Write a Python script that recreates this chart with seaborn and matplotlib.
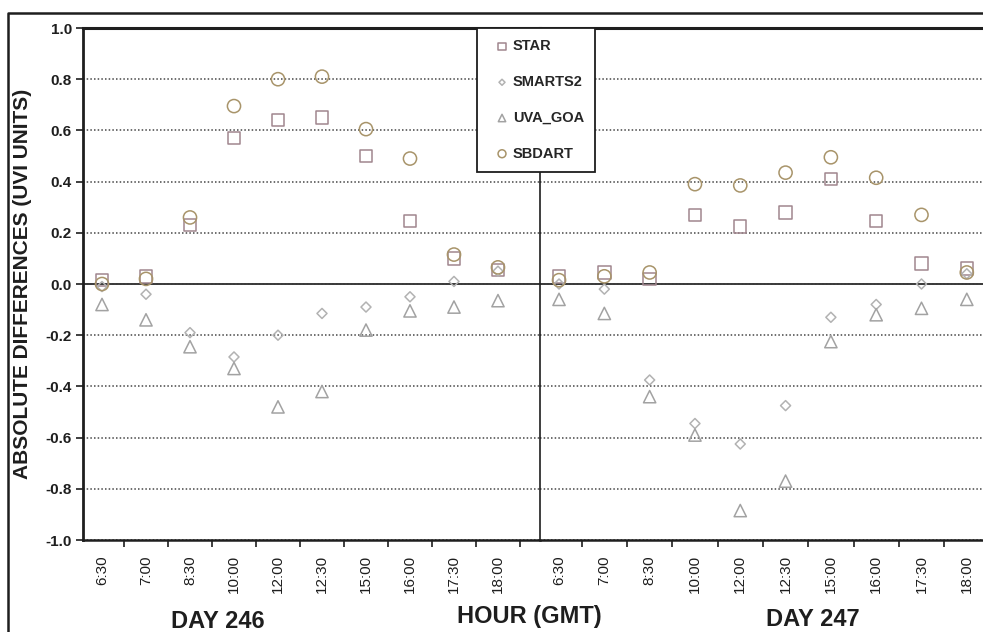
import numpy as np
import pandas as pd
import matplotlib
matplotlib.use("Agg")
import matplotlib.pyplot as plt
import seaborn as sns
from matplotlib.lines import Line2D
from matplotlib.ticker import FixedLocator

# Measurement hours (GMT) used on both days
hours = ["6:30", "7:00", "8:30", "10:00", "12:00", "12:30",
         "15:00", "16:00", "17:30", "18:00"]
models = ["STAR", "SMARTS2", "UVA_GOA", "SBDART"]

# Absolute differences (UVI units), day 246
star_246 = [0.015, 0.03, 0.23, 0.57, 0.64, 0.65, 0.50, 0.245, 0.10, 0.055]
smarts2_246 = [-0.01, -0.04, -0.19, -0.285, -0.20, -0.115, -0.09, -0.05, 0.01, 0.05]
uvagoa_246 = [-0.08, -0.14, -0.245, -0.33, -0.48, -0.42, -0.18, -0.105, -0.09, -0.065]
sbdart_246 = [0.0, 0.02, 0.26, 0.695, 0.80, 0.81, 0.605, 0.49, 0.115, 0.065]

# Absolute differences (UVI units), day 247
star_247 = [0.03, 0.045, 0.02, 0.27, 0.225, 0.28, 0.41, 0.245, 0.08, 0.06]
smarts2_247 = [0.0, -0.02, -0.375, -0.545, -0.625, -0.475, -0.13, -0.08, 0.0, 0.04]
uvagoa_247 = [-0.06, -0.115, -0.44, -0.59, -0.885, -0.77, -0.225, -0.12, -0.095, -0.06]
sbdart_247 = [0.015, 0.03, 0.045, 0.39, 0.385, 0.435, 0.495, 0.415, 0.27, 0.045]

y_ticks = np.linspace(-1.0, 1.0, 11)

sns.set_style("ticks")
plt.rcParams["font.family"] = ["Liberation Sans", "DejaVu Sans"]
plt.rcParams["axes.unicode_minus"] = False

frames = []
for day, series in ((246, [star_246, smarts2_246, uvagoa_246, sbdart_246]),
                    (247, [star_247, smarts2_247, uvagoa_247, sbdart_247])):
    for model, vals in zip(models, series):
        frames.append(pd.DataFrame({"day": day, "hour": hours,
                                    "model": model, "value": vals}))
df = pd.concat(frames, ignore_index=True)

marker_style = {
    "STAR": dict(marker="s", color="#a0868e", s=80),
    "SMARTS2": dict(marker="D", color="#b2b2b2", s=26),
    "UVA_GOA": dict(marker="^", color="#a2a2a2", s=78),
    "SBDART": dict(marker="o", color="#a8946a", s=90),
}

W, H = 983, 632
fig = plt.figure(figsize=(W / 100, H / 100), dpi=100)


def px_box(x0, x1, y0=28, y1=540):
    return [x0 / W, 1 - y1 / H, (x1 - x0) / W, (y1 - y0) / H]


ax_l = fig.add_axes(px_box(83, 540))
ax_r = fig.add_axes(px_box(540, 989))

ink = "#1e1e1e"
for ax, day in ((ax_l, 246), (ax_r, 247)):
    sub = df[df["day"] == day]
    for m in models:
        st = marker_style[m]
        sns.scatterplot(data=sub[sub["model"] == m], x="hour", y="value",
                        marker=st["marker"], s=st["s"], color=st["color"],
                        facecolors="none", edgecolor=st["color"],
                        linewidth=1.1, label=m, legend=False, ax=ax, zorder=3)
    ax.set_xlabel("")
    ax.set_ylabel("")
    ax.set_ylim(-1.0, 1.0)
    ax.set_yticks(y_ticks)
    ax.set_axisbelow(True)
    ax.grid(axis="y", color="#474747", linestyle=(0, (1.0, 1.4)), linewidth=1.1)
    ax.grid(axis="x", visible=False)
    ax.axhline(0, color="#3a3a3a", lw=1.4, zorder=2)
    ax.xaxis.set_minor_locator(FixedLocator(np.arange(0.5, 9.6, 1.0)))
    ax.tick_params(axis="x", which="major", length=0, pad=11, labelsize=11,
                   labelrotation=90, labelcolor=ink)
    ax.tick_params(axis="x", which="minor", length=5, width=1.2,
                   direction="out", color=ink)
    for side in ("top", "bottom"):
        ax.spines[side].set_color(ink)
    ax.spines["top"].set_linewidth(2.2)
    ax.spines["bottom"].set_linewidth(1.8)

ax_l.set_xlim(-0.432, 9.955)
ax_r.set_xlim(-0.42, 9.49)

ax_l.set_yticklabels([f"{v:.1f}" for v in y_ticks], fontweight="bold")
ax_l.tick_params(axis="y", length=5, width=1.2, pad=3, labelsize=11,
                 direction="out", color=ink, labelcolor=ink)
ax_l.spines["left"].set_linewidth(2.0)
ax_l.spines["left"].set_color(ink)
ax_l.spines["right"].set_visible(False)

ax_r.tick_params(axis="y", length=0, labelleft=False)
ax_r.spines["left"].set_linewidth(1.2)
ax_r.spines["left"].set_color(ink)
ax_r.spines["right"].set_visible(False)

# Axis titles
fig.text(23 / W, 1 - 284 / H, "ABSOLUTE DIFFERENCES (UVI UNITS)", rotation=90,
         ha="center", va="center", fontsize=15, fontweight="bold", color=ink)
fig.text(218 / W, 1 - 621 / H, "DAY 246", ha="center", va="center",
         fontsize=17, fontweight="bold", color=ink)
fig.text(529 / W, 1 - 616 / H, "HOUR (GMT)", ha="center", va="center",
         fontsize=17, fontweight="bold", color=ink)
fig.text(813 / W, 1 - 620 / H, "DAY 247", ha="center", va="center",
         fontsize=17, fontweight="bold", color=ink)

# Outer frame around the whole figure
fig.add_artist(Line2D([8 / W, 8 / W, 1.02], [-0.02, 1 - 13 / H, 1 - 13 / H],
                      color=ink, lw=1.8))

handles, labels = ax_l.get_legend_handles_labels()
leg = fig.legend(handles, labels, loc="upper left",
                 bbox_to_anchor=(477 / W, 1 - 28 / H), borderaxespad=0,
                 frameon=True, fancybox=False, framealpha=1, edgecolor=ink,
                 borderpad=0.78, labelspacing=1.49, handlelength=1.87,
                 handletextpad=-0.2, markerscale=0.6,
                 prop=dict(weight="bold", size=10.5))
leg.get_frame().set_linewidth(1.3)

fig.savefig("out.png", dpi=100)
